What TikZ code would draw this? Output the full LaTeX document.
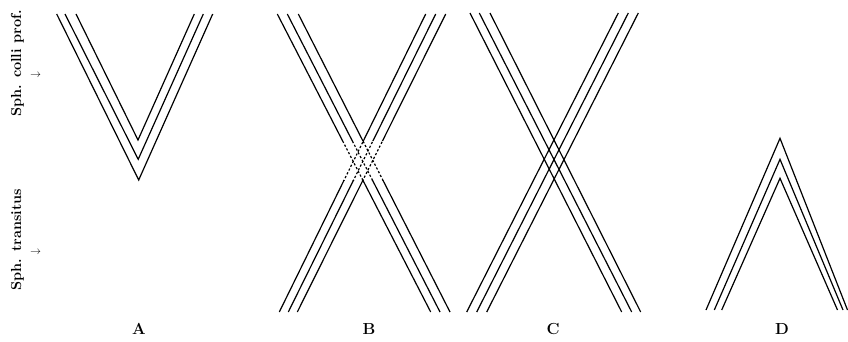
\documentclass[tikz,border=0pt]{standalone}
\begin{document}
\begin{tikzpicture}[x=1pt,y=-1pt,
  ln/.style={line width=1.2pt},
  dsh/.style={line width=1.2pt, dash pattern=on 2.2pt off 2pt},
  lab/.style={font=\fontsize{16}{18}\selectfont\bfseries, inner sep=0pt},
  side/.style={font=\fontsize{14.5}{17}\selectfont\bfseries, rotate=90, inner sep=0pt},
  arr/.style={font=\fontsize{11}{12}\selectfont, inner sep=0pt}]
\useasboundingbox (0,0) rectangle (848,341);

% side labels
\node[side] (sp1) at (17.5,63.5) {Sph. colli prof.};
\node[arr] (ar1) at (35.5,75) {$\rightarrow$};
\node[side] (sp2) at (17.5,240) {Sph. transitus};
\node[arr] (ar2) at (35.5,252) {$\rightarrow$};

% A
\draw[ln] (56.7,14) -- (138.7,180) -- (212.7,14);
\draw[ln] (65,14) -- (138.2,159.3) -- (203.3,14);
\draw[ln] (76,14) -- (138,140) -- (194.3,14);

% B
\def\Blines{
  \draw (277.3,14) -- (430.7,312);
  \draw (287.3,14) -- (440,312);
  \draw (298.3,14) -- (450,312);
  \draw (425.7,14) -- (279.3,312);
  \draw (435.7,14) -- (288.3,312);
  \draw (445.7,14) -- (297.3,312);
}
\begin{scope}[ln]
  \clip (250,0) rectangle (470,141) (250,180) rectangle (470,341);
  \Blines
\end{scope}
\begin{scope}[dsh]
  \clip (250,141) rectangle (470,180);
  \Blines
\end{scope}

% C
\begin{scope}[ln]
  \draw (470,13) -- (621.7,312);
  \draw (479.3,13) -- (631.7,312);
  \draw (490,13) -- (640.7,312);
  \draw (638.3,13) -- (486.7,312);
  \draw (628.3,13) -- (476.7,312);
  \draw (618.3,13) -- (466.7,312);
\end{scope}

% D
\draw[ln] (706,310) -- (780,138.3) -- (847.5,310);
\draw[ln] (714.3,310) -- (780,159.3) -- (843,310);
\draw[ln] (721.7,310) -- (780,178.3) -- (837.5,310);

% letters
\node[lab] (la) at (139,329) {A};
\node[lab] (lb) at (369,329) {B};
\node[lab] (lc) at (553,329) {C};
\node[lab] (ld) at (782,329) {D};
\end{tikzpicture}
\end{document}
